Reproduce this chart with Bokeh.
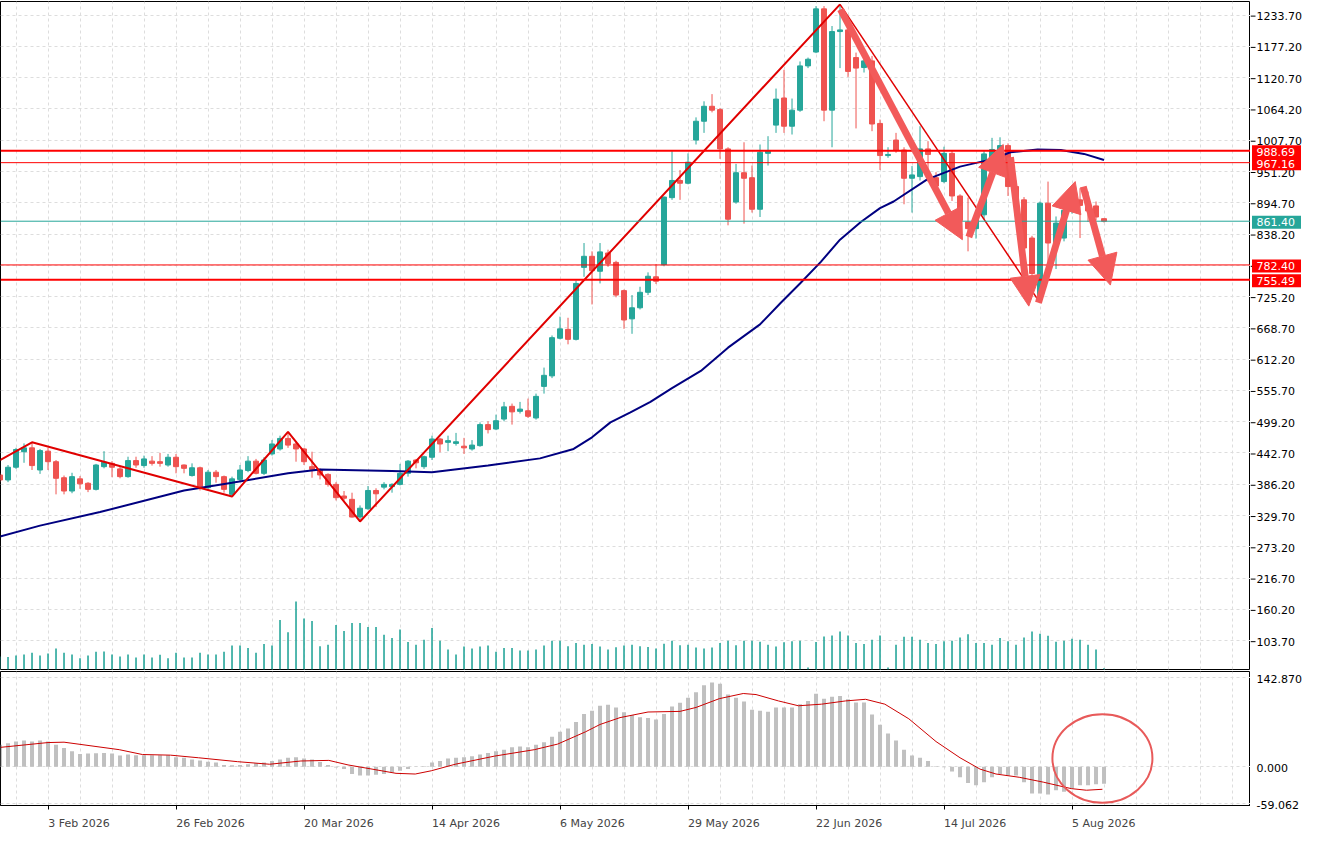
from bokeh.plotting import figure
from bokeh.layouts import column, row
from bokeh.models import (Range1d, FixedTicker, Arrow, NormalHead, ColumnDataSource, Span, Grid,
                          LinearAxis)
from bokeh.core.properties import value
from bokeh.embed import file_html
from bokeh.resources import INLINE

# ---------------- data ----------------
opens = [403, 394, 417, 445, 452, 412, 446, 427, 398, 374, 396, 388, 377, 418, 424, 414, 400, 429, 420, 428,
         427, 421, 435, 421, 402, 416, 380, 408, 400, 368, 395, 411, 428, 406, 441, 450, 469, 459, 450, 418,
         412, 404, 386, 365, 359, 327, 342, 375, 381, 382, 386, 406, 430, 418, 435, 468, 462, 460, 455, 450,
         456, 494, 486, 504, 527, 518, 519, 506, 563, 582, 650, 666, 648, 778, 798, 771, 804, 787, 736, 685,
         705, 733, 761, 783, 904, 935, 930, 1008, 1042, 1069, 1063, 992, 896, 949, 940, 883, 984, 1035, 1084, 1033,
         1062, 1142, 1167, 1245, 1062, 1204, 1207, 1157, 1139, 1151, 1038, 980, 1008, 990, 939, 942, 992, 940, 933, 984,
         907, 860, 848, 873, 971, 989, 998, 924, 900, 831, 720, 894, 822, 831, 881, 900, 895, 889, 866]
highs = [406, 421, 452, 460, 462, 450, 452, 430, 402, 407, 401, 390, 423, 446, 428, 418, 436, 436, 438, 437,
         443, 441, 441, 422, 424, 418, 412, 412, 402, 400, 421, 437, 432, 435, 466, 474, 481, 463, 452, 445,
         415, 406, 390, 374, 371, 348, 383, 379, 390, 388, 423, 430, 432, 438, 474, 470, 474, 479, 470, 466,
         498, 500, 512, 535, 532, 535, 541, 550, 597, 655, 689, 687, 754, 822, 807, 822, 810, 790, 738, 728,
         743, 769, 784, 906, 988, 954, 984, 1049, 1078, 1091, 1066, 995, 965, 1004, 962, 1000, 1015, 1101, 1135, 1083,
         1150, 1157, 1250, 1250, 1214, 1253, 1212, 1166, 1160, 1160, 1045, 995, 1021, 995, 961, 1033, 1006, 950, 996, 990,
         910, 904, 880, 989, 1012, 1013, 1002, 935, 905, 835, 897, 933, 870, 890, 925, 921, 915, 897, 866]
lows = [390, 390, 414, 425, 412, 405, 412, 368, 368, 370, 378, 372, 375, 415, 399, 397, 398, 416, 416, 420,
        418, 418, 406, 406, 400, 375, 378, 389, 371, 364, 392, 408, 404, 403, 438, 447, 452, 427, 421, 398,
        395, 382, 357, 357, 326, 319, 340, 345, 377, 371, 384, 400, 415, 414, 430, 444, 446, 456, 441, 447,
        454, 478, 484, 500, 494, 514, 506, 503, 550, 578, 648, 639, 646, 761, 711, 749, 779, 724, 667, 658,
        702, 728, 748, 780, 900, 900, 928, 1000, 1021, 1058, 974, 854, 893, 857, 877, 869, 962, 1021, 1021, 1018,
        1059, 1138, 1165, 1042, 995, 1138, 1122, 1029, 1130, 1024, 954, 976, 985, 892, 877, 935, 933, 915, 930, 898,
        855, 807, 830, 865, 960, 985, 907, 890, 805, 740, 714, 772, 775, 825, 875, 831, 860, 863, 859]
closes = [394, 417, 449, 452, 420, 447, 427, 397, 374, 400, 387, 377, 421, 426, 417, 400, 429, 421, 432, 424,
          424, 435, 418, 415, 416, 382, 408, 400, 377, 396, 412, 428, 406, 430, 459, 469, 457, 450, 427, 413,
          403, 386, 362, 361, 327, 343, 375, 369, 386, 386, 406, 428, 425, 436, 468, 459, 465, 463, 452, 457,
          494, 485, 501, 526, 517, 522, 509, 545, 583, 651, 667, 648, 749, 798, 772, 806, 785, 728, 683, 705,
          733, 762, 753, 905, 935, 930, 968, 1042, 1069, 1062, 992, 865, 949, 939, 883, 986, 989, 1082, 1033, 1062,
          1142, 1154, 1245, 1062, 1204, 1207, 1132, 1138, 1151, 1037, 980, 982, 989, 939, 945, 992, 982, 925, 984, 907,
          863, 848, 870, 983, 991, 998, 924, 900, 813, 767, 894, 822, 858, 881, 905, 890, 880, 869, 861.4]
volumes = [40, 38, 43, 46, 51, 43, 49, 64, 51, 46, 34, 43, 54, 55, 46, 40, 46, 37, 46, 37,
           45, 34, 51, 37, 37, 51, 46, 46, 54, 73, 73, 66, 51, 78, 73, 151, 114, 208, 156, 148,
           71, 76, 136, 118, 142, 142, 130, 130, 106, 96, 122, 84, 76, 91, 127, 88, 61, 46, 70, 64,
           70, 73, 54, 66, 66, 58, 58, 61, 73, 88, 88, 71, 81, 76, 78, 70, 61, 68, 73, 76,
           71, 69, 64, 79, 88, 74, 76, 67, 64, 67, 81, 88, 74, 88, 88, 85, 76, 70, 83, 86,
           88, 6, 84, 101, 104, 116, 104, 81, 78, 91, 104, 6, 76, 100, 100, 91, 81, 78, 86, 88,
           98, 108, 81, 81, 76, 96, 86, 76, 98, 116, 109, 103, 85, 88, 94, 91, 76, 61, 4]
macd_hist = [35.4, 38, 40.6, 42.2, 40.6, 42.2, 40.6, 35.4, 30.2, 25, 20.8, 21.4, 21.9, 22.4, 21.4, 18.2, 19.8, 18.8, 18.8, 18.8,
             18.8, 18.8, 15.6, 14.6, 12, 10.4, 8.3, 6.8, 3.1, 2.6, 3.1, 4.2, 5.7, 6.8, 9.4, 12, 14.6, 15.6, 13.5, 12,
             7.8, 3.1, -1, -3.6, -11.5, -14, -14, -12.5, -11.5, -8.9, -6.3, -3.6, 0.5, 1, 6.8, 9.4, 13.5, 14.6, 15.6, 17.2,
             19.8, 22.4, 25, 27.6, 31.3, 32.8, 31.3, 35.4, 39.6, 48.5, 56.3, 61.5, 71.9, 84.9, 90.1, 97.9, 99.5, 95.3, 87.5, 83.4,
             79.7, 78.2, 76, 85, 97, 103, 111, 119.8, 130.8, 135.5, 133.4, 116.2, 111, 104.7, 91.7, 90.1, 88.6, 95.3, 95.3, 95.3,
             100.6, 105.8, 117.2, 109.4, 112.5, 113.6, 108.4, 103.2, 103.2, 83.9, 67.7, 53.7, 42.2, 27.6, 18.2, 14.6, 9.4, 1, -0.5, -7.3,
             -16.7, -26, -29.7, -24.5, -16.7, -11.5, -14, -14, -24.5, -42.7, -42.7, -44.3, -37.5, -40.1, -34.9, -29.7, -29.7, -28.1, -27.1]
signal_idx = [0.06, 6, 8, 14.9, 17.8, 21.3, 24.8, 29.7, 33.7, 37.6, 41.1, 43.5, 46.5, 49.5, 51.9, 53.9, 56.9, 61.8, 66.8,
              69.7, 73.2, 75, 77.5, 81, 85, 87, 89.9, 92.9, 94.5, 97.3, 99.8, 102.7, 105.7, 108.2, 110.6, 113.6, 117,
              120, 122.5, 124.5, 127.4, 130.4, 133.9, 135.8, 137.8]
signal_val = [31.3, 39, 39.6, 27.6, 19.8, 18.8, 14.6, 8.3, 4.2, 9.4, 10.4, 3.1, -3.6, -10.4, -11.5, -6.3, 4.2, 17.2, 27.6,
              36.5, 56.3, 68, 79, 88, 89, 95.3, 109.4, 117.7, 116, 105.8, 98, 100.6, 105.8, 108.4, 100.6, 77.1, 40.6,
              14.6, -3.6, -11.5, -16.7, -24.5, -34.9, -37.5, -36]
ma_idx = [0, 5, 12.5, 23, 29, 36, 40, 49, 54, 61, 67.5, 71.7, 74, 76.3, 78.8, 81.3, 84, 87.6, 91, 95,
          97.6, 100, 102.6, 105, 107.6, 110, 111.7, 115.9, 120, 124.2, 126.3, 129.7, 132.6, 135.5, 138]
ma_val = [292, 311.5, 336, 375, 389, 406, 413, 410, 408, 420, 433, 450, 471, 498, 516, 535, 560, 591, 633, 675,
          714, 749, 788, 828, 860, 885, 897, 937, 960, 974, 986, 991, 990, 983, 972]
zz_idx = [0, 4, 29, 36, 45, 105, 130]
zz_val = [430, 462, 364, 481, 319, 1253, 714]
level_vals = [988.69, 967.16, 782.40, 755.49]
current_price = 861.40
arrow_x0 = [105.06, 121.1, 126.3, 129.8, 135.4]
arrow_y0 = [1244, 833, 977, 714, 924]
arrow_x1 = [120.3, 125.4, 128.6, 134.4, 138.8]
arrow_y1 = [828, 1000, 708, 933, 746]
circle_x, circle_y, circle_w, circle_h = 137.8, 13.6, 12.5, 142
date_ticks = [6, 22, 38, 54, 70, 86, 102, 118, 134]
date_labels = ["3 Feb 2026", "26 Feb 2026", "20 Mar 2026", "14 Apr 2026", "6 May 2026",
               "29 May 2026", "22 Jun 2026", "14 Jul 2026", "5 Aug 2026"]
price_ticks = [103.70, 160.20, 216.70, 273.20, 329.70, 386.20, 442.70, 499.20, 555.70, 612.20, 668.70,
               725.20, 781.70, 838.20, 894.70, 951.20, 1007.70, 1064.20, 1120.70, 1177.20, 1233.70]
macd_ticks = [-59.062, 0.0, 142.87]

# ---------------- styling ----------------
UP = "#26a69a"
DOWN = "#ef5350"
ARROW = "#f25a5a"
FONT = "DejaVu Sans"
FS = 11
GRID = "#dddddd"
FW = 1250          # plot frame width (px)
AW = 58            # price-scale panel width (px)
PX_PER_BAR = 8.0
X0 = 0.06
XR = (X0, X0 + FW / PX_PER_BAR)
grid_ticks = list(range(2, 160, 4))

MAIN_H = 668
MAIN_Y = (51.6, 1258.3)
MACD_H = 134
MACD_Y = (-62.0, 153.0)
BOT = 22

# approximate DejaVu Sans advance widths (em) used to left-align date labels at their ticks
_EM = {" ": 0.318, "F": 0.575, "M": 0.863, "A": 0.684, "J": 0.295, "e": 0.615, "b": 0.635,
       "a": 0.613, "r": 0.411, "p": 0.635, "y": 0.592, "u": 0.634, "n": 0.634, "l": 0.278,
       "g": 0.635}


def text_w(s):
    return sum(_EM.get(ch, 0.636) for ch in s) * FS


idx = list(range(len(opens)))
colors = [UP if c >= o else DOWN for o, c in zip(opens, closes)]
src = ColumnDataSource(dict(x=idx, o=opens, h=highs, l=lows, c=closes,
                            top=[max(o, c) for o, c in zip(opens, closes)],
                            bot=[min(o, c) for o, c in zip(opens, closes)],
                            col=colors, vol=volumes, hist=macd_hist))

# ---------------- main price pane ----------------
p1 = figure(frame_width=FW, frame_height=MAIN_H, x_range=Range1d(*XR), y_range=Range1d(*MAIN_Y),
            y_axis_location=None, x_axis_location=None, output_backend="svg",
            toolbar_location=None, min_border_left=0, min_border_right=0,
            min_border_top=1, min_border_bottom=1)
p1.outline_line_color = "black"
p1.grid.visible = False
p1.add_layout(Grid(dimension=0, ticker=FixedTicker(ticks=grid_ticks),
                   grid_line_color=GRID, grid_line_dash="3 3"))
p1.add_layout(Grid(dimension=1, ticker=FixedTicker(ticks=price_ticks),
                   grid_line_color=GRID, grid_line_dash="3 3"))

p1.extra_y_ranges = {"vol": Range1d(0, 2041)}
p1.segment(x0="x", y0=0, x1="x", y1="vol", source=src, y_range_name="vol",
           line_color=UP, line_width=1.6)

p1.segment(x0="x", y0="l", x1="x", y1="h", source=src, line_color="col", line_width=1)
p1.vbar(x="x", top="top", bottom="bot", width=0.62, source=src,
        fill_color="col", line_color="col", line_width=1)

p1.line(ma_idx, ma_val, line_color="#000080", line_width=2)

for v, w in zip(level_vals, [2, 1, 1, 2]):
    p1.add_layout(Span(location=v, dimension="width", line_color="#ff0000", line_width=w))
p1.add_layout(Span(location=current_price, dimension="width", line_color=UP, line_width=1))

p1.line(zz_idx[:6], zz_val[:6], line_color="#e00000", line_width=2)
p1.line(zz_idx[5:], zz_val[5:], line_color="#e00000", line_width=1.5)

for xa, ya, xb, yb in zip(arrow_x0, arrow_y0, arrow_x1, arrow_y1):
    p1.add_layout(Arrow(x_start=xa, y_start=ya, x_end=xb, y_end=yb,
                        line_color=ARROW, line_width=7,
                        end=NormalHead(size=30, fill_color=ARROW, line_color=ARROW, line_width=1)))

# ---------------- main price scale panel ----------------
pr1 = figure(frame_width=AW, frame_height=MAIN_H + 2, x_range=Range1d(0, AW),
             y_range=Range1d(MAIN_Y[0] - (MAIN_Y[1] - MAIN_Y[0]) / MAIN_H,
                             MAIN_Y[1] + (MAIN_Y[1] - MAIN_Y[0]) / MAIN_H),
             x_axis_location=None, y_axis_location=None, output_backend="svg",
             toolbar_location=None, min_border=0)
pr1.outline_line_color = None
pr1.grid.visible = False
pr1.segment(x0=0, y0=price_ticks, x1=5, y1=price_ticks, line_color="black", line_width=1)
pr1.text(x=6, y=price_ticks, text=["%.2f" % t for t in price_ticks], text_font=value(FONT),
         text_font_size="11px", text_baseline="middle", text_align="left", text_color="black")
box_vals = [level_vals[0], level_vals[1], current_price, level_vals[2], level_vals[3]]
box_cols = ["#ff0000", "#ff0000", UP, "#ff0000", "#ff0000"]
pr1.rect(x=26, y=box_vals, width=49, height=13, height_units="screen",
         fill_color=box_cols, line_color=None)
pr1.text(x=6, y=box_vals, text=["%.2f" % v for v in box_vals], text_font=value(FONT),
         text_font_size="11px", text_baseline="middle", text_align="left", text_color="white")

# ---------------- MACD pane ----------------
p2 = figure(frame_width=FW, frame_height=MACD_H, x_range=p1.x_range, y_range=Range1d(*MACD_Y),
            y_axis_location=None, x_axis_location=None, output_backend="svg", toolbar_location=None,
            min_border_left=0, min_border_right=0, min_border_top=1, min_border_bottom=BOT)
p2.outline_line_color = "black"
p2.grid.visible = False
p2.add_layout(Grid(dimension=0, ticker=FixedTicker(ticks=grid_ticks),
                   grid_line_color=GRID, grid_line_dash="3 3"))
p2.add_layout(Grid(dimension=1, ticker=FixedTicker(ticks=macd_ticks),
                   grid_line_color=GRID, grid_line_dash="3 3"))

# tick marks only
tick_axis = LinearAxis(ticker=FixedTicker(ticks=date_ticks),
                       major_label_overrides={t: "" for t in date_ticks},
                       major_label_text_font_size="1px", major_label_standoff=0,
                       major_tick_out=4, major_tick_in=0, minor_tick_line_color=None,
                       axis_line_color="black")
p2.add_layout(tick_axis, "below")
# labels whose left edge sits at each tick
label_pos = [round(t + text_w(s) / 2.0 / PX_PER_BAR, 4) for t, s in zip(date_ticks, date_labels)]
label_axis = LinearAxis(ticker=FixedTicker(ticks=label_pos),
                        major_label_overrides={t: s for t, s in zip(label_pos, date_labels)},
                        major_label_text_font=FONT, major_label_text_font_size="11px",
                        major_label_standoff=1, major_tick_line_color=None,
                        minor_tick_line_color=None, axis_line_color=None)
p2.add_layout(label_axis, "below")

p2.vbar(x="x", top="hist", bottom=0, width=0.5, source=src, fill_color="#c0c0c0", line_color=None)
p2.line(signal_idx, signal_val, line_color="#cc0000", line_width=1)
p2.ellipse(x=[circle_x], y=[circle_y], width=[circle_w], height=[circle_h],
           fill_color=None, line_color="#e85a5a", line_width=2)

# ---------------- MACD scale panel ----------------
mscale = (MACD_Y[1] - MACD_Y[0]) / MACD_H
pr2 = figure(frame_width=AW, frame_height=MACD_H + 1 + BOT, x_range=Range1d(0, AW),
             y_range=Range1d(MACD_Y[0] - BOT * mscale, MACD_Y[1] + 1 * mscale),
             x_axis_location=None, y_axis_location=None, output_backend="svg",
             toolbar_location=None, min_border=0)
pr2.outline_line_color = None
pr2.grid.visible = False
pr2.text(x=6, y=macd_ticks, text=["%.3f" % t for t in macd_ticks], text_font=value(FONT),
         text_font_size="11px", text_baseline="middle", text_align="left", text_color="black")

layout = column(row(p1, pr1, spacing=0), row(p2, pr2, spacing=0), spacing=0)
open("out.html", "w").write(file_html(layout, INLINE))
